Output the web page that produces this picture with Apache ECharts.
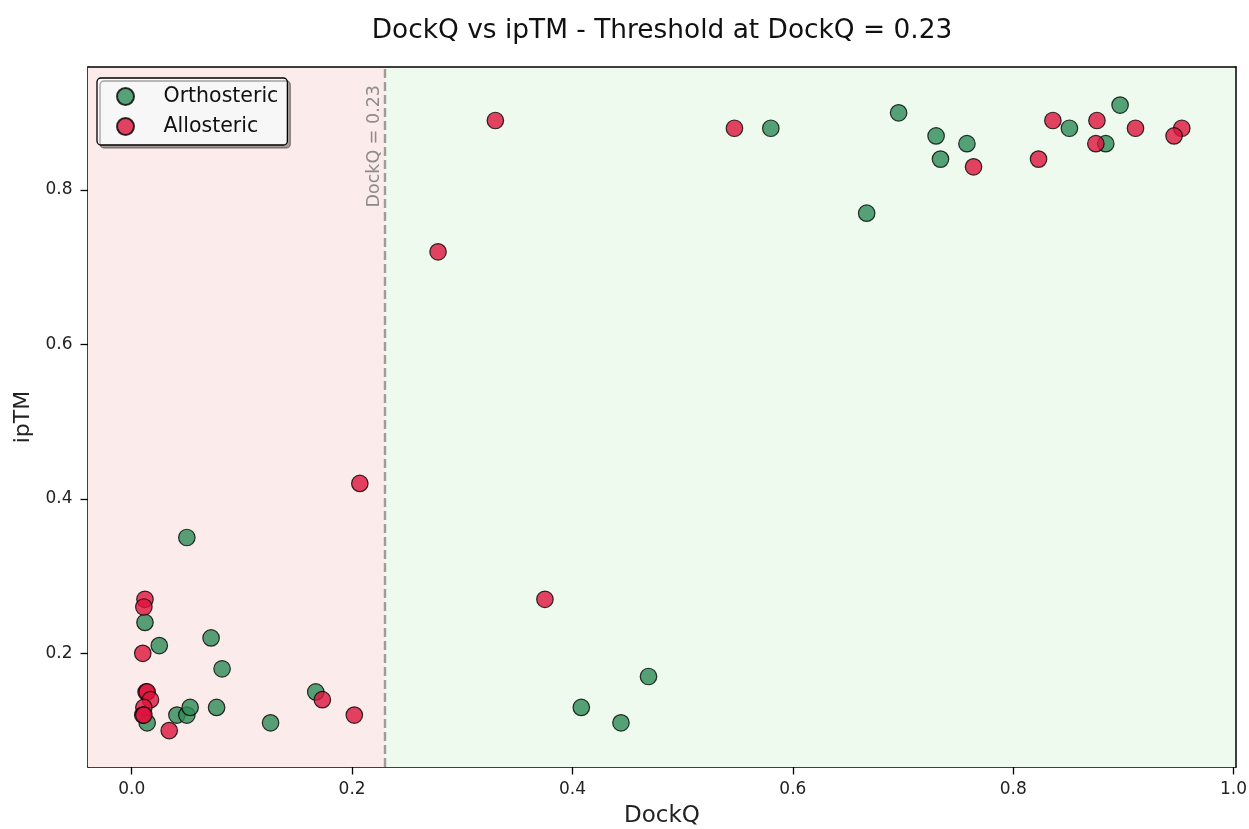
<!DOCTYPE html>
<html>
<head>
<meta charset="utf-8">
<title>DockQ vs ipTM</title>
<script src="https://cdn.jsdelivr.net/npm/echarts@6/dist/echarts.min.js"></script>
<style>
  html, body { margin: 0; padding: 0; background: #fff; }
  #chart { width: 1249px; height: 829px; }
</style>
</head>
<body>
<div id="chart"></div>
<script>
// Orthosteric complexes: DockQ and ipTM
const orthoDockQ = [0.580, 0.667, 0.696, 0.730, 0.734, 0.758, 0.851, 0.884, 0.897,
                    0.469, 0.408, 0.444,
                    0.050, 0.012, 0.025, 0.072, 0.082, 0.167, 0.077, 0.126, 0.014, 0.041, 0.050, 0.053];
const orthoIpTM  = [0.88, 0.77, 0.90, 0.87, 0.84, 0.86, 0.88, 0.86, 0.91,
                    0.17, 0.13, 0.11,
                    0.35, 0.24, 0.21, 0.22, 0.18, 0.15, 0.13, 0.11, 0.11, 0.12, 0.12, 0.13];

// Allosteric complexes: DockQ and ipTM
const alloDockQ = [0.330, 0.547, 0.278, 0.375, 0.207, 0.764, 0.823, 0.836, 0.876, 0.875, 0.911, 0.953, 0.946,
                   0.012, 0.011, 0.010, 0.013, 0.014, 0.017, 0.011, 0.010, 0.011, 0.034, 0.173, 0.202];
const alloIpTM  = [0.89, 0.88, 0.72, 0.27, 0.42, 0.83, 0.84, 0.89, 0.89, 0.86, 0.88, 0.88, 0.87,
                   0.27, 0.26, 0.20, 0.15, 0.15, 0.14, 0.13, 0.12, 0.12, 0.10, 0.14, 0.12];

// tick positions
const xTicks = [0.0, 0.2, 0.4, 0.6, 0.8, 1.0];
const yTicks = [0.2, 0.4, 0.6, 0.8];

const threshold = 0.23;
const xRange = [-0.0397, 1.0022];
const yRange = [0.0528, 0.9593];
const seriesNames = ['Orthosteric', 'Allosteric'];

const zip = (xs, ys) => xs.map((x, i) => [x, ys[i]]);

const FONT = 'DejaVu Sans';
const onTick = v => Math.abs(v * 5 - Math.round(v * 5)) < 1e-6;
const gridLine = { show: true, lineStyle: { color: 'rgba(170,170,170,0.4)', type: [5, 4], width: 1 } };

const baseX = {
  type: 'value', min: xRange[0], max: xRange[1], position: 'bottom',
  axisLine: { show: true, onZero: false, lineStyle: { color: '#000', width: 1.5 } },
  axisTick: { show: true, length: 7.5, customValues: xTicks, lineStyle: { color: '#000', width: 1.3 } },
  axisLabel: { margin: 14, fontFamily: FONT, fontSize: 17, color: '#222', customValues: xTicks,
               formatter: v => onTick(v) ? v.toFixed(1) : '' },
  splitLine: gridLine,
  name: 'DockQ', nameLocation: 'middle', nameGap: 38,
  nameTextStyle: { fontFamily: FONT, fontSize: 23, color: '#222' }
};
const baseY = {
  type: 'value', min: yRange[0], max: yRange[1], position: 'left',
  axisLine: { show: true, onZero: false, lineStyle: { color: '#000', width: 1.5 } },
  axisTick: { show: true, length: 7.5, customValues: yTicks, lineStyle: { color: '#000', width: 1.3 } },
  axisLabel: { margin: 15.5, fontFamily: FONT, fontSize: 17, color: '#222', customValues: yTicks,
               formatter: v => onTick(v) ? v.toFixed(1) : '' },
  splitLine: gridLine,
  name: 'ipTM', nameLocation: 'middle', nameGap: 48,
  nameTextStyle: { fontFamily: FONT, fontSize: 22, color: '#222' }
};
// frame lines on the top and right sides
const frameX = {
  type: 'value', min: xRange[0], max: xRange[1], position: 'top', z: 10,
  axisLine: { show: true, onZero: false, lineStyle: { color: '#000', width: 1.5 } },
  axisTick: { show: false }, axisLabel: { show: false }, splitLine: { show: false }
};
const frameY = {
  type: 'value', min: yRange[0], max: yRange[1], position: 'right', z: 10,
  axisLine: { show: true, onZero: false, lineStyle: { color: '#000', width: 1.5 } },
  axisTick: { show: false }, axisLabel: { show: false }, splitLine: { show: false }
};

const pointStyle = color => ({
  color: color, opacity: 0.8, borderColor: '#000', borderWidth: 1.2
});

const option = {
  animation: false,
  backgroundColor: '#fff',
  title: {
    text: 'DockQ vs ipTM - Threshold at DockQ = 0.23',
    left: 657, top: 13, textAlign: 'center',
    textStyle: { fontFamily: FONT, fontSize: 26.4, fontWeight: 'normal', color: '#111' }
  },
  grid: { left: 88, right: 13, top: 67, bottom: 62, containLabel: false, outerBoundsMode: 'none' },
  legend: {
    data: seriesNames,
    orient: 'vertical', left: 97, top: 78,
    padding: [8, 9, 8, 19],
    itemGap: 9,
    itemWidth: 36, itemHeight: 17,
    backgroundColor: 'rgba(250,250,250,0.97)',
    borderColor: '#000', borderWidth: 1.3, borderRadius: 4,
    shadowColor: 'rgba(0,0,0,0.35)', shadowBlur: 0, shadowOffsetX: 3, shadowOffsetY: 3,
    textStyle: { fontFamily: FONT, fontSize: 20.5, color: '#111', padding: [0, 0, 0, 15] }
  },
  xAxis: [baseX, frameX],
  yAxis: [baseY, frameY],
  series: [
    {
      // shaded regions on both sides of the threshold
      name: 'regions', type: 'scatter', data: [], z: -1, silent: true,
      markArea: {
        silent: true,
        data: [
          [{ xAxis: xRange[0], itemStyle: { color: '#fcebeb' } }, { xAxis: threshold }],
          [{ xAxis: threshold, itemStyle: { color: '#edfaed' } }, { xAxis: xRange[1] }]
        ]
      }
    },
    {
      name: 'threshold', type: 'scatter', data: [], z: 1, silent: true,
      markLine: {
        silent: true, symbol: 'none',
        lineStyle: { color: 'rgba(128,128,128,0.75)', width: 2.4, type: [9, 4] },
        label: {
          show: true, position: 'insideEndTop', formatter: 'DockQ = 0.23',
          fontFamily: FONT, fontSize: 17.5, color: 'rgba(128,128,128,0.9)', distance: [18, 2]
        },
        data: [{ xAxis: threshold }]
      }
    },
    {
      name: seriesNames[0], type: 'scatter', symbol: 'circle', symbolSize: 16.5, z: 3,
      itemStyle: pointStyle('#2e8b57'),
      data: zip(orthoDockQ, orthoIpTM)
    },
    {
      name: seriesNames[1], type: 'scatter', symbol: 'circle', symbolSize: 16.5, z: 3,
      itemStyle: pointStyle('#dc143c'),
      data: zip(alloDockQ, alloIpTM)
    }
  ]
};

const chart = echarts.init(document.getElementById('chart'), null, { renderer: 'canvas' });
chart.setOption(option);
</script>
</body>
</html>
